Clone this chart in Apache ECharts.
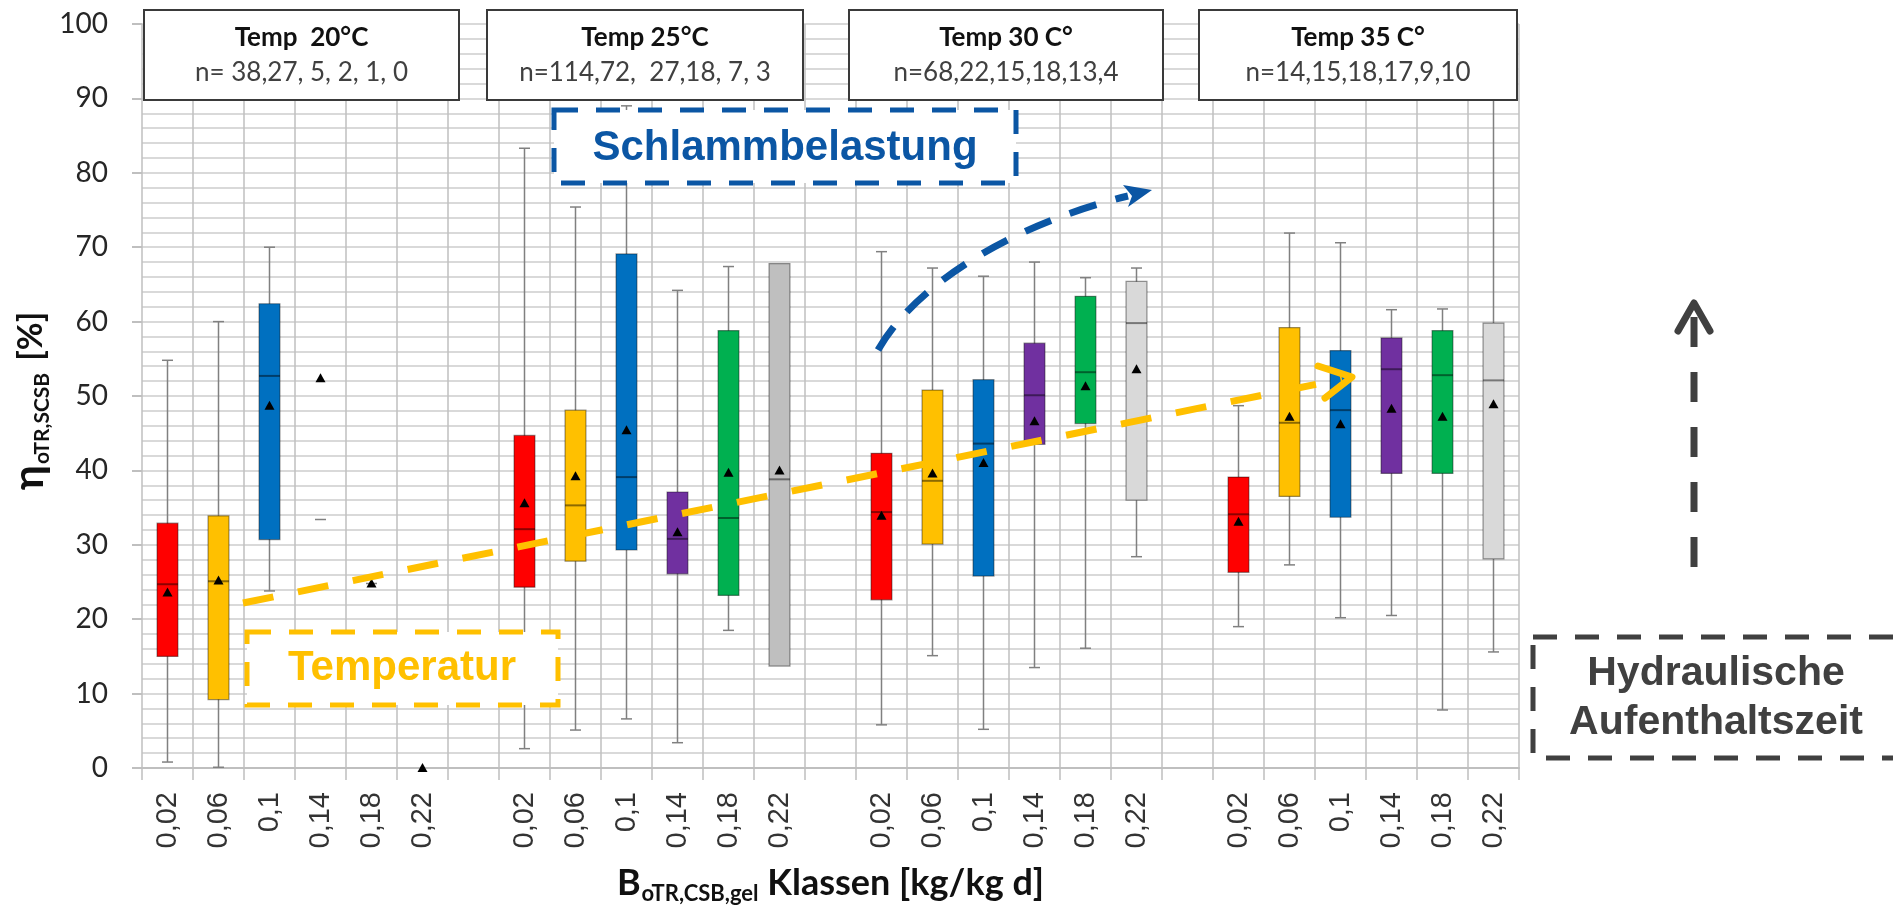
<!DOCTYPE html>
<html>
<head>
<meta charset="utf-8">
<script src="https://cdn.jsdelivr.net/npm/echarts@6/dist/echarts.min.js"></script>
<style>
  html, body { margin: 0; padding: 0; background: #ffffff; }
  #chart { width: 1893px; height: 907px; }
</style>
</head>
<body>
<div id="chart"></div>
<script>
// ---- data -------------------------------------------------------------
const classLabels = ['0,02', '0,06', '0,1', '0,14', '0,18', '0,22'];
const tempTitles = ['Temp  20°C', 'Temp 25°C', 'Temp 30 C°', 'Temp 35 C°'];
const tempCounts = ['n= 38,27, 5, 2, 1, 0', 'n=114,72,  27,18, 7, 3', 'n=68,22,15,18,13,4', 'n=14,15,18,17,9,10'];
const classColors = ['#FF0000', '#FFC000', '#0070C0', '#7030A0', '#00B050'];
const topClassGray = ['#BFBFBF', '#BFBFBF', '#D9D9D9', '#D9D9D9'];

// [lower whisker, Q1, median, Q3, upper whisker] per class
const stats20 = [
  [0.8, 15.0, 24.7, 32.9, 54.8],
  [0.1, 9.2, 25.1, 33.9, 60.0],
  [23.8, 30.7, 52.7, 62.4, 70.0],
  [33.4, null, null, null, null],
  [24.8, null, null, null, null],
  [null, null, null, null, null]
];
const mean20 = [23.6, 25.2, 48.7, 52.4, 24.8, 0];

const stats25 = [
  [2.6, 24.3, 32.1, 44.7, 83.3],
  [5.1, 27.8, 35.3, 48.1, 75.4],
  [6.6, 29.3, 39.1, 69.1, 89.0],
  [3.4, 26.1, 30.8, 37.1, 64.2],
  [18.5, 23.2, 33.6, 58.8, 67.4],
  [null, 13.7, 38.8, 67.8, null]
];
const mean25 = [35.6, 39.2, 45.4, 31.7, 39.7, 40.0];

const stats30 = [
  [5.8, 22.6, 34.4, 42.3, 69.4],
  [15.1, 30.1, 38.6, 50.8, 67.2],
  [5.2, 25.8, 43.6, 52.2, 66.1],
  [13.5, 43.5, 50.1, 57.1, 68.0],
  [16.1, 46.3, 53.2, 63.4, 65.9],
  [28.4, 36.0, 59.8, 65.4, 67.2]
];
const mean30 = [33.9, 39.6, 41.0, 46.6, 51.3, 53.6];

const stats35 = [
  [19.0, 26.3, 34.1, 39.1, 48.7],
  [27.3, 36.5, 46.4, 59.2, 71.9],
  [20.2, 33.7, 48.1, 56.1, 70.6],
  [20.5, 39.6, 53.6, 57.8, 61.6],
  [7.8, 39.6, 52.8, 58.8, 61.7],
  [15.6, 28.1, 52.1, 59.8, 90.0]
];
const mean35 = [33.1, 47.2, 46.2, 48.3, 47.2, 48.9];

const yTicks = { min: 0, max: 100, step: 10 };

// ---- build category axis and box records --------------------------------
const groupStats = [stats20, stats25, stats30, stats35];
const groupMeans = [mean20, mean25, mean30, mean35];
const categories = [];
const boxData = [];
const boxFill = [];
groupStats.forEach((stats, g) => {
  if (g > 0) categories.push('');
  stats.forEach((s, c) => {
    const xi = categories.length;
    categories.push(classLabels[c]);
    boxData.push([xi, s[0], s[1], s[2], s[3], s[4], groupMeans[g][c]]);
    boxFill.push(c < classColors.length ? classColors[c] : topClassGray[g]);
  });
});

// ---- box renderer -------------------------------------------------------
function renderBox(params, api) {
  const xi = api.value(0);
  const num = k => { const n = api.value(k); return (n == null || isNaN(n)) ? null : n; };
  const lo = num(1), q1 = num(2), md = num(3), q3 = num(4), hi = num(5), mn = num(6);
  const cx = api.coord([xi, 0])[0];
  const half = api.size([1, 0])[0] * 0.205;
  const capHalf = 5.5;
  const py = v => api.coord([xi, v])[1];
  const whisker = { stroke: '#808080', lineWidth: 1.5 };
  const kids = [];
  if (lo != null && hi != null) {
    kids.push({ type: 'line', shape: { x1: cx, y1: py(lo), x2: cx, y2: py(hi) }, style: whisker });
  }
  [lo, hi].forEach(v => {
    if (v != null) kids.push({ type: 'line', shape: { x1: cx - capHalf, y1: py(v), x2: cx + capHalf, y2: py(v) }, style: whisker });
  });
  if (q1 != null && q3 != null) {
    const top = py(q3), bot = py(q1);
    kids.push({ type: 'rect', shape: { x: cx - half, y: top, width: half * 2, height: bot - top },
      style: { fill: boxFill[params.dataIndex], stroke: 'rgba(0,0,0,0.4)', lineWidth: 1.2 } });
    if (md != null) {
      kids.push({ type: 'line', shape: { x1: cx - half, y1: py(md), x2: cx + half, y2: py(md) },
        style: { stroke: 'rgba(0,0,0,0.45)', lineWidth: 2 } });
    }
  }
  if (mn != null) {
    const my = py(mn);
    kids.push({ type: 'polygon', shape: { points: [[cx, my - 5], [cx + 5, my + 4], [cx - 5, my + 4]] },
      style: { fill: '#000000' } });
  }
  return { type: 'group', children: kids };
}

// ---- annotation helpers -------------------------------------------------
const measureCtx = document.createElement('canvas').getContext('2d');
function textWidth(str, font) { measureCtx.font = font; return measureCtx.measureText(str).width; }
function txt(x, y, text, font, fill, align, extra) {
  return Object.assign({
    type: 'text', x: x, y: y, z: 110,
    style: { text: text, font: font, fill: fill, align: align || 'center', textAlign: align || 'center',
      verticalAlign: 'middle', textVerticalAlign: 'middle' }
  }, extra || {});
}

const BLUE = '#0B56A4', YELLOW = '#FFC000', DARK = '#404040';
const graphics = [];

// temperature header boxes
const tempBoxX = [[144, 459], [487, 803], [849, 1163], [1199, 1517]];
tempTitles.forEach((t, i) => {
  const [x0, x1] = tempBoxX[i];
  graphics.push({ type: 'rect', z: 100, shape: { x: x0, y: 10, width: x1 - x0, height: 90 },
    style: { fill: '#ffffff', stroke: '#3a3a3a', lineWidth: 2 } });
  graphics.push(txt((x0 + x1) / 2, 38, t, 'bold 26px Lato', '#111111'));
  graphics.push(txt((x0 + x1) / 2, 73, tempCounts[i], '26px Lato', DARK));
});

// sludge loading trend
graphics.push({ type: 'rect', z: 100, shape: { x: 554, y: 110, width: 462, height: 73 },
  style: { fill: '#ffffff', stroke: BLUE, lineWidth: 5, lineDash: [24, 18] } });
graphics.push(txt(785, 148, 'Schlammbelastung', 'bold 42px "Liberation Sans"', BLUE));
graphics.push({ type: 'bezierCurve', z: 100,
  shape: { x1: 878, y1: 350, cpx1: 915, cpy1: 285, cpx2: 1010, cpy2: 225, x2: 1128, y2: 196 },
  style: { fill: null, stroke: BLUE, lineWidth: 7, lineDash: [28, 20] } });
graphics.push({ type: 'polygon', z: 100,
  shape: { points: [[1152, 190], [1128, 207], [1132, 196], [1123, 185]] },
  style: { fill: BLUE } });

// temperature trend
graphics.push({ type: 'line', z: 100, shape: { x1: 243, y1: 603, x2: 1342, y2: 379 },
  style: { stroke: YELLOW, lineWidth: 7, lineDash: [31, 25] } });
graphics.push({ type: 'polyline', z: 100, shape: { points: [[1318, 366], [1352, 377], [1325, 398]] },
  style: { fill: null, stroke: YELLOW, lineWidth: 7, lineCap: 'round', lineJoin: 'round' } });
graphics.push({ type: 'rect', z: 100, shape: { x: 247, y: 632, width: 311, height: 73 },
  style: { fill: '#ffffff', stroke: YELLOW, lineWidth: 5, lineDash: [24, 18] } });
graphics.push(txt(402, 668, 'Temperatur', 'bold 42px "Liberation Sans"', YELLOW));

// hydraulic retention time
graphics.push({ type: 'line', z: 100, shape: { x1: 1694, y1: 567, x2: 1694, y2: 306 },
  style: { stroke: DARK, lineWidth: 7, lineDash: [30, 25] } });
graphics.push({ type: 'polyline', z: 100, shape: { points: [[1678, 331], [1694, 303], [1710, 331]] },
  style: { fill: null, stroke: DARK, lineWidth: 7, lineCap: 'round', lineJoin: 'round' } });
graphics.push({ type: 'rect', z: 100, shape: { x: 1533, y: 637, width: 420, height: 121 },
  style: { fill: null, stroke: DARK, lineWidth: 5, lineDash: [24, 18] } });
graphics.push(txt(1716, 674, 'Hydraulische', 'bold 41px "Liberation Sans"', DARK));
graphics.push(txt(1716, 723, 'Aufenthaltszeit', 'bold 41px "Liberation Sans"', DARK));

// x axis title with subscript
(function () {
  const fBig = 'bold 36px Lato', fSub = 'bold 22px Lato';
  const a = 'B', b = 'oTR,CSB,gel', c = ' Klassen [kg/kg d]';
  const wa = textWidth(a, fBig), wb = textWidth(b, fSub), wc = textWidth(c, fBig);
  const x0 = 830 - (wa + wb + wc) / 2;
  graphics.push(txt(x0, 883, a, fBig, '#111111', 'left'));
  graphics.push(txt(x0 + wa + 1, 894, b, fSub, '#111111', 'left'));
  graphics.push(txt(x0 + wa + wb + 1, 883, c, fBig, '#111111', 'left'));
})();

// y axis title with subscript, rotated
(function () {
  const fEta = 'bold 42px Lato, "Noto Sans"', fSub = 'bold 21px Lato', fUnit = 'bold 34px Lato';
  const wEta = textWidth('η', fEta), wSub = textWidth('oTR,SCSB', fSub);
  const rot = { rotation: Math.PI / 2 };
  let y = 490;
  graphics.push(txt(29, y, 'η', fEta, '#111111', 'left', rot));
  y -= wEta + 1;
  graphics.push(txt(42, y, 'oTR,SCSB', fSub, '#111111', 'left', rot));
  y -= wSub + 12;
  graphics.push(txt(31, y, '[%]', fUnit, '#111111', 'left', rot));
})();

// ---- chart --------------------------------------------------------------
const chart = echarts.init(document.getElementById('chart'), null, { renderer: 'canvas' });
chart.setOption({
  backgroundColor: '#ffffff',
  animation: false,
  grid: { left: 142, right: 374, top: 24, bottom: 139 },
  xAxis: {
    type: 'category',
    data: categories,
    boundaryGap: true,
    axisLine: { show: true, lineStyle: { color: '#BFBFBF', width: 2 } },
    axisTick: { show: true, interval: 0, length: 12, lineStyle: { color: '#BFBFBF', width: 1.5 } },
    axisLabel: { interval: 0, rotate: 90, margin: 24, fontSize: 29, fontFamily: 'Liberation Sans', color: '#333333' },
    splitLine: { show: true, interval: 0, lineStyle: { color: '#BFBFBF', width: 1.5 } }
  },
  yAxis: {
    type: 'value',
    min: yTicks.min, max: yTicks.max, interval: yTicks.step,
    axisLine: { show: false },
    axisTick: { show: true, length: 10, lineStyle: { color: '#BFBFBF', width: 2 } },
    axisLabel: { margin: 34, fontSize: 28, fontFamily: 'Lato', color: '#262626' },
    splitLine: { show: true, lineStyle: { color: '#D9D9D9', width: 2 } },
    minorTick: { show: false, splitNumber: 5 },
    minorSplitLine: { show: true, lineStyle: { color: '#D9D9D9', width: 2 } }
  },
  series: [{
    type: 'custom',
    renderItem: renderBox,
    data: boxData,
    encode: { x: 0, y: [1, 2, 3, 4, 5, 6] },
    clip: false,
    z: 5
  }],
  graphic: { elements: graphics }
});
</script>
</body>
</html>
